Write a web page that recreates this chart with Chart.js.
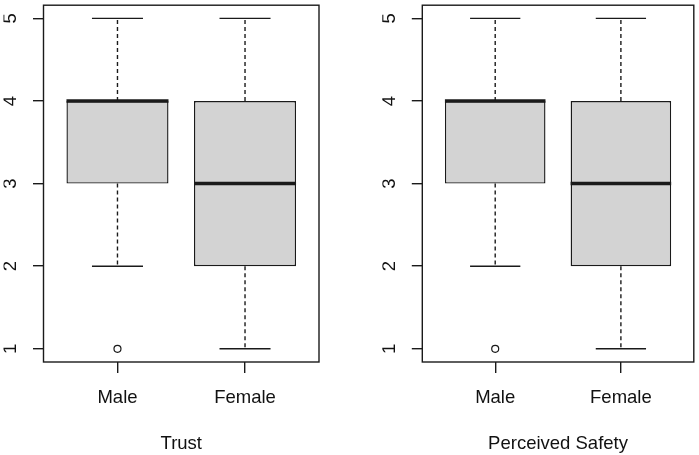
<!DOCTYPE html>
<html>
<head>
<meta charset="utf-8">
<script src="https://cdn.jsdelivr.net/npm/chart.js@4"></script>
<style>
  body { margin: 0; background: #fff; }
  .panel { position: absolute; top: 0; height: 455px; }
  #p1 { left: 0; width: 349px; }
  #p2 { left: 349px; width: 350px; }
</style>
</head>
<body>
<div class="panel" id="p1"><canvas id="c1"></canvas></div>
<div class="panel" id="p2"><canvas id="c2"></canvas></div>
<script>
// data
var groups = ["Male", "Female"];
var yTicks = [1, 2, 3, 4, 5];

var trustMin = [2, 1];
var trustQ1 = [3, 2];
var trustMed = [4, 3];
var trustQ3 = [4, 4];
var trustMax = [5, 5];
var trustOut = [[1], []];

var safetyMin = [2, 1];
var safetyQ1 = [3, 2];
var safetyMed = [4, 3];
var safetyQ3 = [4, 4];
var safetyMax = [5, 5];
var safetyOut = [[1], []];

var ink = "#1a1a1a";
var fontFamily = "'Liberation Sans', Arial, sans-serif";

function seg(x1, y1, x2, y2, width, dash) {
	return {
		type: 'line',
		data: [{x: x1, y: y1}, {x: x2, y: y2}],
		borderColor: ink,
		borderWidth: width,
		borderDash: dash || [],
		pointRadius: 0,
		fill: false,
		order: 1
	};
}

// build the datasets for one boxplot panel
function boxDatasets(mins, q1s, meds, q3s, maxs, outs) {
	var sets = [];
	var boxes = [];
	var outPts = [];
	for (var i = 0; i < groups.length; i++) {
		var x = i + 1;
		boxes.push({x: x, y: [q1s[i], q3s[i]]});
		sets.push(seg(x, q3s[i], x, maxs[i], 1.4, [4, 3]));
		sets.push(seg(x, q1s[i], x, mins[i], 1.4, [4, 3]));
		sets.push(seg(x - 0.2, maxs[i], x + 0.2, maxs[i], 1.4));
		sets.push(seg(x - 0.2, mins[i], x + 0.2, mins[i], 1.4));
		sets.push(seg(x - 0.4, meds[i], x + 0.4, meds[i], 3.5));
		for (var k = 0; k < outs[i].length; k++) outPts.push({x: x, y: outs[i][k]});
	}
	sets.push({
		type: 'scatter',
		data: outPts,
		pointStyle: 'circle',
		pointRadius: 3.5,
		pointBorderWidth: 1.2,
		pointBorderColor: ink,
		pointBackgroundColor: '#fff',
		order: 0
	});
	sets.unshift({
		type: 'bar',
		data: boxes,
		backgroundColor: '#d3d3d3',
		borderColor: ink,
		borderWidth: 1.4,
		borderSkipped: false,
		categoryPercentage: 1,
		barPercentage: 0.8,
		order: 2
	});
	return sets;
}

// R style frame around the plot region
var framePlugin = {
	id: 'frame',
	afterDatasetsDraw: function(chart) {
		var a = chart.chartArea;
		var ctx = chart.ctx;
		ctx.save();
		ctx.strokeStyle = ink;
		ctx.lineWidth = 1.4;
		ctx.strokeRect(a.left, a.top, a.right - a.left, a.bottom - a.top);
		ctx.restore();
	}
};

function makeChart(id, title, sets, pad) {
	var ctx = document.getElementById(id).getContext('2d');
	return new Chart(ctx, {
		type: 'bar',
		data: { datasets: sets },
		plugins: [framePlugin],
		options: {
			responsive: true,
			maintainAspectRatio: false,
			animation: false,
			layout: { padding: pad },
			plugins: {
				legend: { display: false },
				tooltip: { enabled: false }
			},
			scales: {
				x: {
					type: 'linear',
					min: 0.42,
					max: 2.58,
					offset: false,
					afterBuildTicks: function(scale) {
						scale.ticks = groups.map(function(g, i) { return {value: i + 1}; });
					},
					afterFit: function(scale) {
						scale.height = 93;
						scale.paddingLeft = 0;
						scale.paddingRight = 0;
					},
					ticks: {
						callback: function(v) { return groups[v - 1]; },
						color: '#111',
						padding: 14,
						font: { family: fontFamily, size: 18.5 }
					},
					grid: { drawOnChartArea: false, offset: false, tickLength: 11, color: ink, lineWidth: 1.4 },
					border: { display: false },
					title: {
						display: true,
						text: title,
						color: '#111',
						padding: { top: 0, bottom: 0 },
						font: { family: fontFamily, size: 18.5 }
					}
				},
				y: {
					min: 0.84,
					max: 5.16,
					afterBuildTicks: function(scale) {
						scale.ticks = yTicks.map(function(v) { return {value: v}; });
					},
					afterFit: function(scale) {
						scale.width = 40;
						scale.paddingTop = 0;
						scale.paddingBottom = 0;
					},
					ticks: {
						color: '#111',
						minRotation: 90,
						maxRotation: 90,
						crossAlign: 'center',
						padding: 17,
						font: { family: fontFamily, size: 18.5 }
					},
					grid: { drawOnChartArea: false, tickLength: 10.5, color: ink, lineWidth: 1.4 },
					border: { display: false }
				}
			}
		}
	});
}

makeChart('c1', 'Trust',
	boxDatasets(trustMin, trustQ1, trustMed, trustQ3, trustMax, trustOut),
	{ left: 3.5, right: 30, top: 2.5, bottom: 0 });
makeChart('c2', 'Perceived Safety',
	boxDatasets(safetyMin, safetyQ1, safetyMed, safetyQ3, safetyMax, safetyOut),
	{ left: 33.3, right: 3.3, top: 2.5, bottom: 0 });
</script>
</body>
</html>
